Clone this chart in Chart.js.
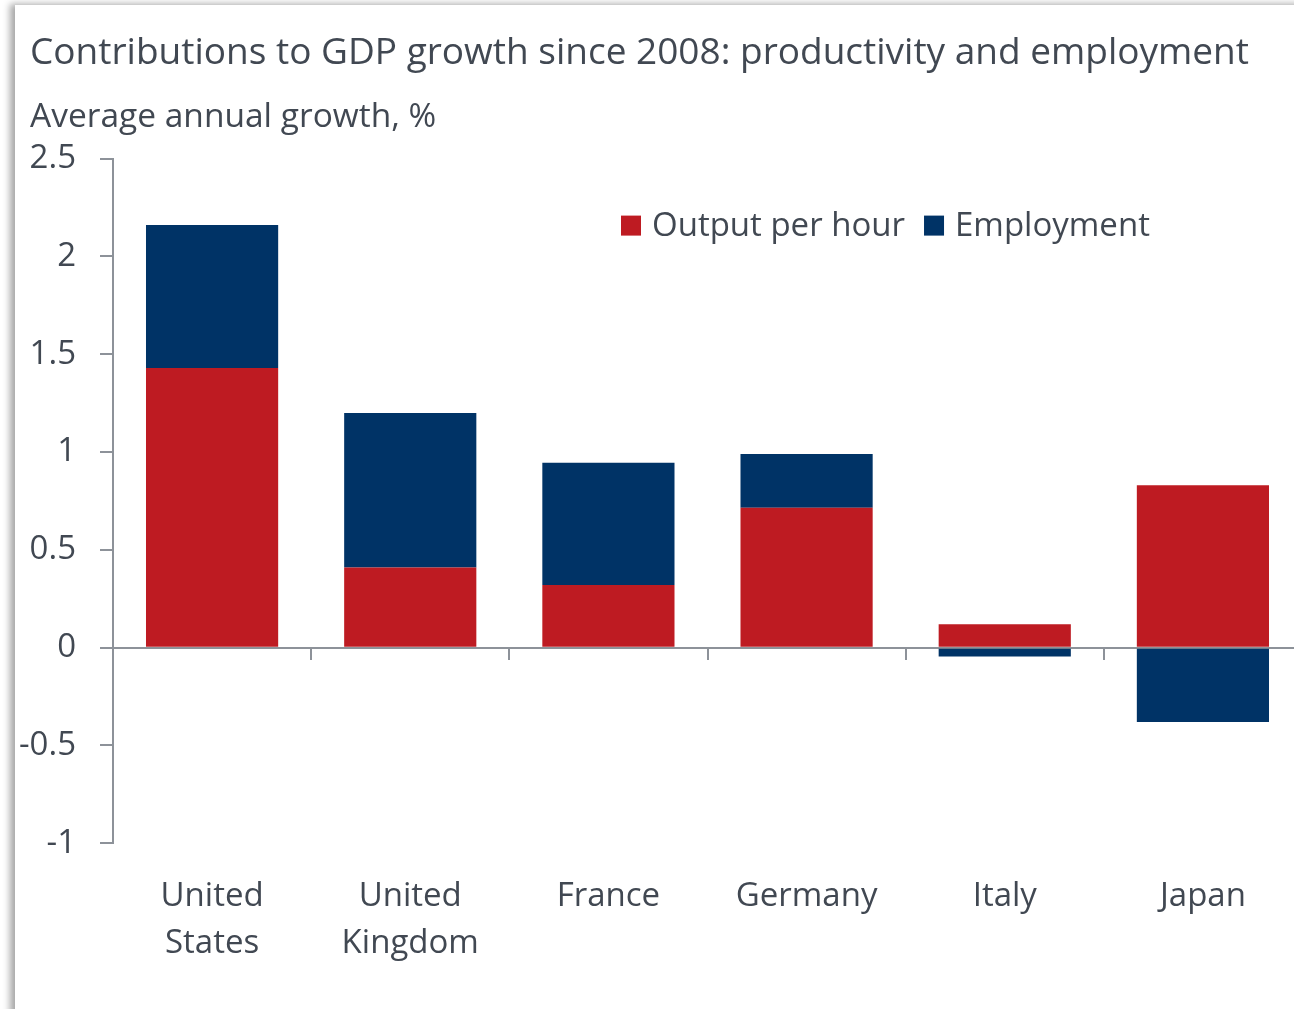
<!DOCTYPE html>
<html>
<head>
<meta charset="utf-8">
<script src="https://cdn.jsdelivr.net/npm/chart.js@4/dist/chart.umd.min.js"></script>
<style>
  html, body { margin: 0; padding: 0; background: #fff; }
  #wrap { position: relative; width: 1294px; height: 1009px; overflow: hidden; background: #fff; }
  #card {
    position: absolute; left: 15px; top: 5px; width: 1320px; height: 1040px;
    background: #fff; box-shadow: -5px -1px 7px rgba(0, 0, 0, 0.35);
  }
  #myChart { position: absolute; left: 0; top: 0; }
</style>
</head>
<body>
<div id="wrap">
  <div id="card"></div>
  <canvas id="myChart" width="1310" height="1009"></canvas>
</div>
<script>
var countries = [["United", "States"], ["United", "Kingdom"], "France", "Germany", "Italy", "Japan"];
var outputPerHour = [1.43, 0.41, 0.32, 0.715, 0.12, 0.83];
var employment = [0.73, 0.79, 0.625, 0.275, -0.045, -0.38];
var yTicks = [-1, -0.5, 0, 0.5, 1, 1.5, 2, 2.5];

var textColor = "#414852";
var axisColor = "#8d9299";
var fontFamily = "'Open Sans', 'Noto Sans', sans-serif";

// legend drawn inside the plot, upper right
var insideLegend = {
  id: "insideLegend",
  afterDraw: function (chart) {
    var ctx = chart.ctx;
    var area = chart.chartArea;
    var x = area.left + 508;
    var y = area.top + 67;
    ctx.save();
    ctx.font = "33px " + fontFamily;
    ctx.textBaseline = "middle";
    ctx.textAlign = "left";
    chart.data.datasets.forEach(function (ds) {
      ctx.fillStyle = ds.backgroundColor;
      ctx.fillRect(x, y - 10, 20, 20);
      ctx.fillStyle = textColor;
      ctx.fillText(ds.label, x + 31, y + 1);
      x += 31 + ctx.measureText(ds.label).width + 19;
    });
    ctx.restore();
  }
};

// headings sit a little right of the axis labels
var indentHeadings = {
  id: "indentHeadings",
  afterLayout: function (chart) {
    chart.boxes.forEach(function (b) {
      if (b.options && b.options.text !== undefined) {
        b.left = 30;
      }
    });
  }
};

new Chart("myChart", {
  type: "bar",
  data: {
    labels: countries,
    datasets: [{
      label: "Output per hour",
      data: outputPerHour,
      backgroundColor: "#be1b22",
      xAxisID: "x"
    }, {
      label: "Employment",
      data: employment,
      backgroundColor: "#003366",
      xAxisID: "x"
    }]
  },
  options: {
    responsive: false,
    animation: false,
    devicePixelRatio: 1,
    layout: { padding: { left: 14, right: 8, top: 0, bottom: 20 } },
    datasets: {
      bar: { categoryPercentage: 1, barPercentage: 0.667, borderWidth: 0 }
    },
    plugins: {
      legend: { display: false },
      tooltip: { enabled: false },
      title: {
        display: true,
        text: "Contributions to GDP growth since 2008: productivity and employment",
        align: "start",
        color: textColor,
        font: { family: fontFamily, size: 37, weight: "normal" },
        padding: { top: 31, bottom: 22 }
      },
      subtitle: {
        display: true,
        text: "Average annual growth, %",
        align: "start",
        color: textColor,
        font: { family: fontFamily, size: 33.5, weight: "normal" },
        padding: { top: 0, bottom: 21 }
      }
    },
    scales: {
      x: {
        stacked: true,
        position: "bottom",
        grid: { display: false },
        border: { display: false },
        ticks: {
          color: textColor,
          padding: 22,
          maxRotation: 0,
          autoSkip: false,
          font: { family: fontFamily, size: 33, lineHeight: 1.42 }
        }
      },
      // zero line with tick marks between countries
      x2: {
        type: "category",
        labels: countries,
        position: { y: 0 },
        offset: true,
        grid: {
          offset: true,
          drawOnChartArea: false,
          drawTicks: true,
          tickLength: 11,
          color: axisColor,
          lineWidth: 2
        },
        border: { display: true, color: axisColor, width: 2 },
        ticks: { display: false },
        afterFit: function (scale) { scale.height = 0; }
      },
      y: {
        stacked: true,
        min: -1,
        max: 2.5,
        afterBuildTicks: function (scale) {
          scale.ticks = yTicks.map(function (v) { return { value: v }; });
        },
        afterFit: function (scale) { scale.width = 99; },
        grid: {
          drawOnChartArea: false,
          drawTicks: true,
          tickLength: 13,
          color: axisColor,
          lineWidth: 2
        },
        border: { display: true, color: axisColor, width: 2 },
        ticks: {
          color: textColor,
          padding: 24,
          font: { family: fontFamily, size: 33 },
          callback: function (v) { return String(v); }
        }
      }
    }
  },
  plugins: [insideLegend, indentHeadings]
});
</script>
</body>
</html>
